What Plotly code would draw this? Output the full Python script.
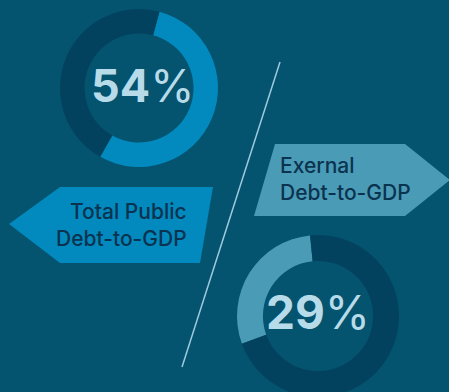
import plotly.graph_objects as go

# Debt ratios shown as donut gauges
ratio_labels = ["Total Public Debt-to-GDP", "Exernal Debt-to-GDP"]
ratio_values = [54, 29]

W, H = 449, 400
BG = "#04536f"
TRACK = "#03425f"
BLUE = "#0289bd"
TEAL = "#4a9bb6"
PCT_TEXT = "#b7dbe8"
LABEL_TEXT = "#0a3350"
FONT = "Inter"


def dom_x(cx, r):
    return [(cx - r) / W, (cx + r) / W]


def dom_y(cy, r):
    return [1 - (cy + r) / H, 1 - (cy - r) / H]


fig = go.Figure()

# empty trace so the pixel-scaled cartesian axes exist for shapes and labels
fig.add_trace(go.Scatter(x=[], y=[], hoverinfo="skip", showlegend=False))

# Public debt donut (upper left)
fig.add_trace(go.Pie(
    values=[ratio_values[0], 100 - ratio_values[0]],
    marker=dict(colors=[BLUE, TRACK], line=dict(width=0)),
    hole=0.69, sort=False, direction="clockwise", rotation=15,
    textinfo="none", hoverinfo="skip", showlegend=False,
    domain=dict(x=dom_x(139, 79), y=dom_y(88, 79)),
))

# External debt donut (lower right)
fig.add_trace(go.Pie(
    values=[ratio_values[1], 100 - ratio_values[1]],
    marker=dict(colors=[TEAL, TRACK], line=dict(width=0)),
    hole=0.68, sort=False, direction="clockwise", rotation=-110,
    textinfo="none", hoverinfo="skip", showlegend=False,
    domain=dict(x=dom_x(318, 81), y=dom_y(316, 81)),
))

shapes = [
    # left-pointing tag
    dict(type="path", path="M 9 224 L 60 187 L 213 187 L 200 263 L 60 263 Z",
         fillcolor=BLUE, line=dict(width=0), layer="below"),
    # right-pointing tag
    dict(type="path", path="M 275 144 L 405 144 L 450 180 L 405 216 L 254 216 Z",
         fillcolor=TEAL, line=dict(width=0), layer="below"),
    # slash divider
    dict(type="line", x0=280, y0=62, x1=182, y1=367,
         line=dict(color="#9fcade", width=1.5)),
]

annotations = [
    dict(x=142, y=85, text=f"<b>{ratio_values[0]}</b>%", showarrow=False,
         font=dict(family=FONT, size=45, color=PCT_TEXT),
         xanchor="center", yanchor="middle"),
    dict(x=318, y=312, text=f"<b>{ratio_values[1]}</b>%", showarrow=False,
         font=dict(family=FONT, size=46, color=PCT_TEXT),
         xanchor="center", yanchor="middle"),
    dict(x=189, y=225, text="Total Public<br>Debt-to-GDP", showarrow=False,
         font=dict(family=FONT, size=21, color=LABEL_TEXT, weight=500),
         xanchor="right", yanchor="middle", align="right"),
    dict(x=278, y=179, text="Exernal<br>Debt-to-GDP", showarrow=False,
         font=dict(family=FONT, size=21, color=LABEL_TEXT, weight=500),
         xanchor="left", yanchor="middle", align="left"),
]

fig.update_layout(
    width=W, height=H,
    margin=dict(l=0, r=0, t=0, b=0, pad=0),
    paper_bgcolor=BG, plot_bgcolor=BG,
    xaxis=dict(range=[0, W], visible=False, fixedrange=True),
    yaxis=dict(range=[H, 0], visible=False, fixedrange=True),
    shapes=shapes, annotations=annotations,
    showlegend=False,
)

fig.write_html(
    "out.html",
    config={"displayModeBar": False},
    post_script="document.documentElement.style.overflow='hidden';"
                "document.body.style.overflow='hidden';",
)
